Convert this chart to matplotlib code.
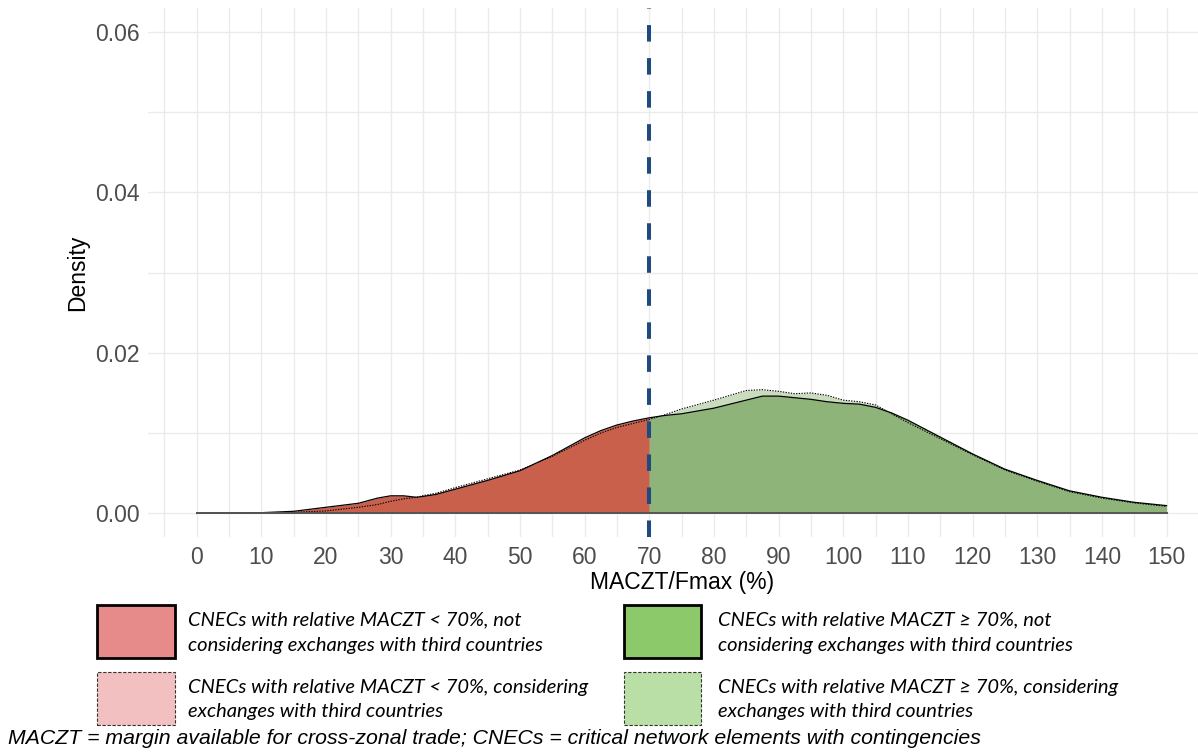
import numpy as np
import matplotlib
matplotlib.use("Agg")
import matplotlib.pyplot as plt
from matplotlib.patches import Rectangle

# ---------------- data ----------------
x_vals = [0, 5, 10, 15, 20, 25, 28, 30, 32, 34, 35, 37, 40, 45, 50, 55, 60, 62.5, 65, 67.5,
          70, 72.5, 75, 80, 85, 87.5, 90, 92.5, 95, 97.5, 100, 102.5, 105, 107.5, 110, 115,
          120, 125, 130, 135, 140, 145, 150]
dens_not_considering = [0.00002, 0.00003, 0.00008, 0.00025, 0.00075, 0.00125, 0.0019, 0.00218,
                        0.00218, 0.0020, 0.0021, 0.00235, 0.0030, 0.0041, 0.0053, 0.0072, 0.0094,
                        0.0103, 0.0110, 0.0115, 0.0119, 0.0122, 0.0124, 0.0131, 0.0141, 0.0146,
                        0.0146, 0.0144, 0.0142, 0.0139, 0.0137, 0.0136, 0.0132, 0.0125, 0.0116,
                        0.0095, 0.0074, 0.0055, 0.0041, 0.0028, 0.0020, 0.00137, 0.00096]
dens_considering = [0.00001, 0.00002, 0.00005, 0.00012, 0.0003, 0.00075, 0.0011, 0.0015,
                    0.0018, 0.0020, 0.0022, 0.0025, 0.0032, 0.0043, 0.0054, 0.0071, 0.0091,
                    0.0100, 0.0107, 0.0112, 0.0117, 0.0123, 0.0130, 0.0141, 0.0153, 0.0154,
                    0.0152, 0.0149, 0.0150, 0.0147, 0.0141, 0.0139, 0.0135, 0.0124, 0.0113,
                    0.0093, 0.0073, 0.0054, 0.0040, 0.0027, 0.0019, 0.0013, 0.00087]
threshold = 70
x_ticks = list(range(0, 151, 10))
y_ticks = [0.00, 0.02, 0.04, 0.06]
legend_labels = [
    "CNECs with relative MACZT < 70%, not\nconsidering exchanges with third countries",
    "CNECs with relative MACZT < 70%, considering\nexchanges with third countries",
    "CNECs with relative MACZT \u2265 70%, not\nconsidering exchanges with third countries",
    "CNECs with relative MACZT \u2265 70%, considering\nexchanges with third countries",
]
footnote = "MACZT = margin available for cross-zonal trade; CNECs = critical network elements with contingencies"
x_label = "MACZT/Fmax (%)"
y_label = "Density"

# ---------------- styles ----------------
RED_DARK = "#C8604C"
RED_LIGHT = "#E8B3A9"
GREEN_DARK = "#8EB47A"
GREEN_LIGHT = "#C9DDBE"
LEG_RED_DARK = "#E68A8A"
LEG_RED_LIGHT = "#F2C0C0"
LEG_GREEN_DARK = "#8CC96A"
LEG_GREEN_LIGHT = "#B9DFA7"
VLINE = "#1F4A7D"
TICK_COL = "#4D4D4D"
GRID_COL = "#EBEBEB"

W, H = 1198, 752
fig = plt.figure(figsize=(W / 100, H / 100), dpi=100)
fig.patch.set_facecolor("white")


def fx(px):
    return px / W


def fy(py):
    return 1 - py / H


# axes in pixel positions
left_px, right_px, top_px, bot_px = 148.2, 1215.0, 7.6, 537.4
ax = fig.add_axes([fx(left_px), fy(bot_px), (right_px - left_px) / W, (bot_px - top_px) / H])
ax.set_xlim(-7.5, 157.5)
ax.set_ylim(-0.003, 0.063)

x = np.array(x_vals)
d1 = np.array(dens_not_considering)
d2 = np.array(dens_considering)
lo = x <= threshold
hi = x >= threshold

# light "considering" fills first
ax.fill_between(x[lo], 0, d2[lo], color=RED_LIGHT, lw=0, zorder=2)
ax.fill_between(x[hi], 0, d2[hi], color=GREEN_LIGHT, lw=0, zorder=2)
# dark "not considering" fills
ax.fill_between(x[lo], 0, d1[lo], color=RED_DARK, lw=0, zorder=3)
ax.fill_between(x[hi], 0, d1[hi], color=GREEN_DARK, lw=0, zorder=3)

ax.plot(x, d2, color="black", lw=0.8, ls=(0, (1.2, 1.2)), zorder=4)
ax.plot(x, d1, color="black", lw=0.9, zorder=5)
ax.plot(x, np.zeros_like(x), color="#555555", lw=1.4, zorder=5)

ax.axvline(threshold, color=VLINE, lw=2.9, ls=(0, (4.1, 4.1)), zorder=6)

# grid
ax.set_xticks(x_ticks)
ax.set_xticks(np.arange(-5, 156, 5), minor=True)
ax.set_yticks(y_ticks)
ax.set_yticks(np.arange(0, 0.061, 0.01), minor=True)
ax.grid(True, which="both", color=GRID_COL, lw=1.0, zorder=0)
ax.set_axisbelow(True)
for s in ax.spines.values():
    s.set_visible(False)
ax.tick_params(which="both", length=0)
ax.tick_params(axis="x", pad=6, labelsize=16.5, labelcolor=TICK_COL)
ax.tick_params(axis="y", pad=6, labelsize=16.5, labelcolor=TICK_COL)
ax.set_xticklabels([str(t) for t in x_ticks], fontfamily="Liberation Sans")
ax.set_yticklabels([f"{t:.2f}" for t in y_ticks], fontfamily="Liberation Sans")

fig.text(fx(681.6), fy(583), x_label, ha="center", va="center", fontsize=16.5,
         family="Liberation Sans", color="black")
fig.text(fx(78), fy(272.5), y_label, ha="center", va="center", fontsize=16.5,
         family="Liberation Sans", color="black", rotation=90)

# ---------------- legend ----------------
boxes = [
    (97.5, 605, LEG_RED_DARK, "solid", 2.0, "black"),
    (97.5, 672, LEG_RED_LIGHT, (0, (3, 1.5)), 0.8, "#333333"),
    (624, 605, LEG_GREEN_DARK, "solid", 2.0, "black"),
    (624, 672, LEG_GREEN_LIGHT, (0, (3, 1.5)), 0.8, "#333333"),
]
bw, bh = 77, 53
text_x = [188, 188, 718, 718]
renderer = fig.canvas.get_renderer()

# fit legend font size to the reference width of the longest line
probe = fig.text(0, 0, "CNECs with relative MACZT < 70%, considering", fontsize=15,
                 style="italic", family=["Lato", "DejaVu Sans"])
wpx = probe.get_window_extent(renderer).width
leg_fs = 15 * 400 / wpx
probe.remove()

for (bx, by, col, ls, lw, ec), tx, lab in zip(boxes, text_x, legend_labels):
    r = Rectangle((fx(bx), fy(by + bh)), bw / W, bh / H, transform=fig.transFigure,
                  facecolor=col, edgecolor=ec, lw=lw, ls=ls)
    fig.add_artist(r)
    l1, l2 = lab.split("\n")
    fig.text(fx(tx), fy(by + 15), l1, ha="left", va="center", fontsize=leg_fs,
             style="italic", family=["Lato", "DejaVu Sans"], color="black")
    fig.text(fx(tx), fy(by + 40), l2, ha="left", va="center", fontsize=leg_fs,
             style="italic", family=["Lato", "DejaVu Sans"], color="black")

probe = fig.text(0, 0, footnote, fontsize=14, style="italic", family="Liberation Sans")
wpx = probe.get_window_extent(renderer).width
foot_fs = 14 * 975 / wpx
probe.remove()
fig.text(fx(8), fy(739), footnote, ha="left", va="center", fontsize=foot_fs,
         style="italic", family="Liberation Sans", color="black")

fig.savefig("out.png", dpi=100)
